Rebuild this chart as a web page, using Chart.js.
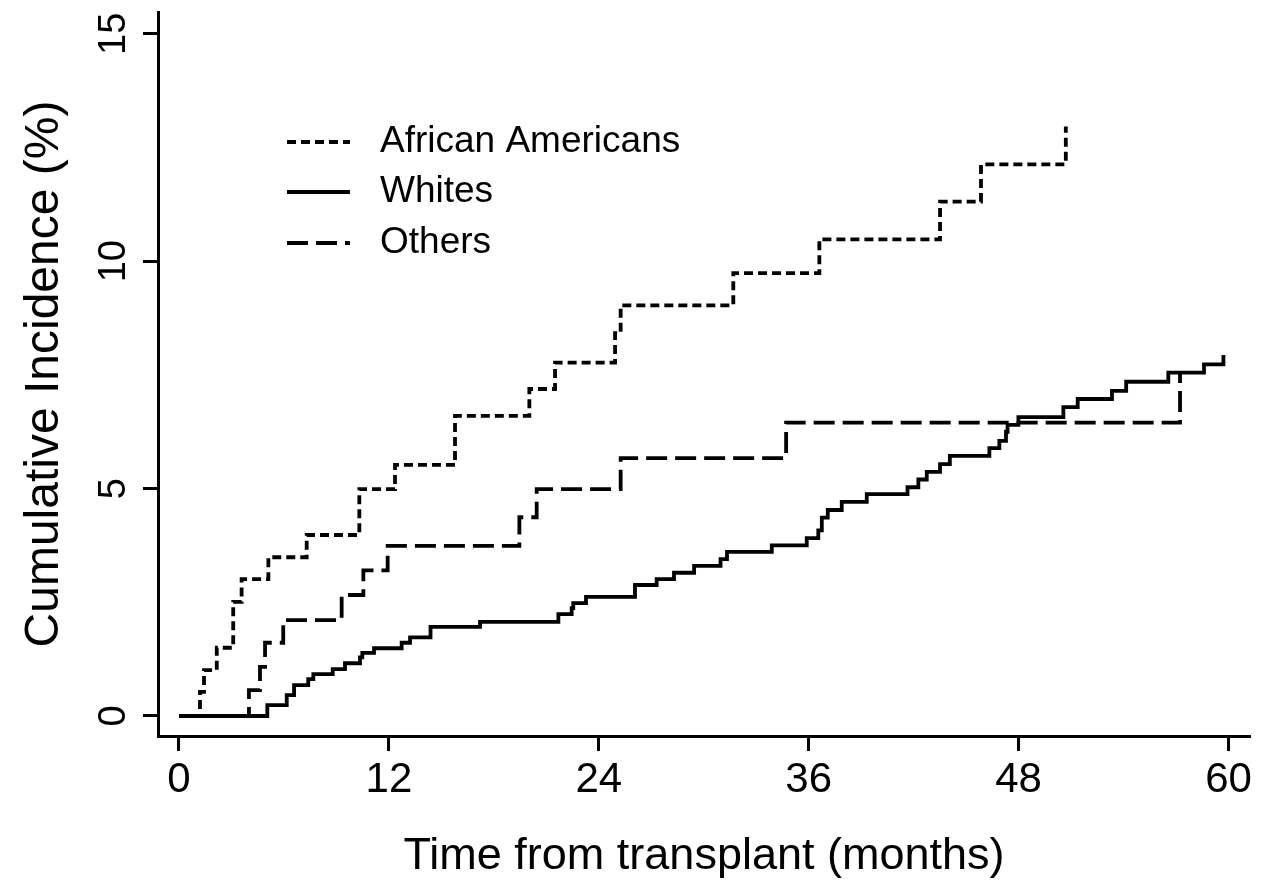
<!DOCTYPE html>
<html>
<head>
<meta charset="utf-8">
<script src="https://cdn.jsdelivr.net/npm/chart.js@4.4.0/dist/chart.umd.min.js"></script>
<style>
  html, body { margin: 0; padding: 0; background: #fff; }
  #wrap { width: 1273px; height: 884px; }
</style>
</head>
<body>
<div id="wrap"><canvas id="chart-incidence"></canvas></div>
<script>
// === Data ===
const xTicks = [0, 12, 24, 36, 48, 60];
const yTicks = [0, 5, 10, 15];

const aaMonths = [0, 1.20, 1.43, 2.16, 3.10, 3.58, 5.11, 7.30, 10.31, 12.35, 15.78, 20.03, 21.50, 24.93, 25.25, 31.69, 36.61, 43.51, 45.85, 50.70];
const aaIncidence = [0, 0.53, 1.01, 1.50, 2.51, 3.01, 3.49, 3.98, 4.99, 5.52, 6.60, 7.19, 7.77, 8.42, 9.03, 9.74, 10.48, 11.31, 12.13, 12.96];

const whMonths = [0, 5.05, 6.16, 6.58, 7.39, 7.68, 8.79, 9.49, 10.35, 10.48, 11.15, 12.73, 13.21, 14.38, 17.21, 21.69, 22.45, 22.54, 23.27, 26.07, 27.31, 28.30, 29.45, 30.96, 31.33, 33.89, 35.89, 36.55, 36.75, 37.09, 37.89, 39.32, 41.65, 42.27, 42.75, 43.51, 44.07, 46.33, 46.90, 47.28, 47.37, 47.99, 50.56, 51.38, 53.34, 54.15, 56.56, 58.60, 59.71];
const whIncidence = [0, 0.24, 0.46, 0.68, 0.81, 0.92, 1.03, 1.16, 1.29, 1.39, 1.49, 1.61, 1.73, 1.96, 2.07, 2.24, 2.37, 2.48, 2.62, 2.88, 3.01, 3.15, 3.30, 3.45, 3.61, 3.75, 3.91, 4.08, 4.36, 4.53, 4.71, 4.88, 5.03, 5.20, 5.37, 5.54, 5.72, 5.89, 6.05, 6.25, 6.40, 6.57, 6.79, 6.97, 7.15, 7.35, 7.55, 7.73, 7.94];

const otMonths = [0, 4.00, 4.63, 4.92, 5.96, 9.30, 10.54, 11.93, 19.46, 20.45, 25.25, 34.71, 57.23];
const otIncidence = [0, 0.57, 1.08, 1.61, 2.11, 2.66, 3.20, 3.74, 4.37, 4.99, 5.67, 6.45, 7.54];

const seriesLabels = ['African Americans', 'Whites', 'Others'];

function toPoints(xs, ys) {
    return xs.map((x, i) => ({ x: x, y: ys[i] }));
}

const FONT = '"Liberation Sans", Arial, sans-serif';

// rotated tick labels on the y axis
const yTickLabels = {
    id: 'yTickLabels',
    afterDraw(chart) {
        const { ctx } = chart;
        const y = chart.scales.y;
        ctx.save();
        ctx.font = '38px ' + FONT;
        ctx.fillStyle = '#000';
        ctx.textAlign = 'center';
        ctx.textBaseline = 'middle';
        y.ticks.forEach(t => {
            ctx.save();
            ctx.translate(y.right - 43, y.getPixelForValue(t.value));
            ctx.rotate(-Math.PI / 2);
            ctx.fillText(String(t.value), 0, 0);
            ctx.restore();
        });
        ctx.restore();
    }
};

// legend inside the plot, line sample then text
const insideLegend = {
    id: 'insideLegend',
    afterDraw(chart) {
        const { ctx, chartArea } = chart;
        const rows = [142, 192, 243];
        ctx.save();
        ctx.font = '37px ' + FONT;
        ctx.textBaseline = 'middle';
        ctx.fillStyle = '#000';
        chart.data.datasets.forEach((ds, i) => {
            const yy = rows[i];
            ctx.beginPath();
            ctx.setLineDash(ds.borderDash || []);
            ctx.lineWidth = ds.borderWidth;
            ctx.strokeStyle = ds.borderColor;
            ctx.moveTo(chartArea.left + 129, yy);
            ctx.lineTo(chartArea.left + 192, yy);
            ctx.stroke();
            ctx.setLineDash([]);
            ctx.fillText(ds.label, chartArea.left + 222, yy);
        });
        ctx.restore();
    }
};

const common = {
    borderColor: '#000',
    borderWidth: 3.8,
    pointRadius: 0,
    stepped: 'before',
    fill: false,
    borderCapStyle: 'butt',
    borderJoinStyle: 'miter'
};

new Chart(document.getElementById('chart-incidence'), {
    type: 'line',
    data: {
        datasets: [
            Object.assign({ label: seriesLabels[0], data: toPoints(aaMonths, aaIncidence), borderDash: [9, 5] }, common),
            Object.assign({ label: seriesLabels[1], data: toPoints(whMonths, whIncidence), borderDash: [] }, common),
            Object.assign({ label: seriesLabels[2], data: toPoints(otMonths, otIncidence), borderDash: [21, 8] }, common)
        ]
    },
    options: {
        responsive: true,
        maintainAspectRatio: false,
        animation: false,
        layout: { padding: { top: 12, right: 23, left: 0, bottom: 0 } },
        plugins: {
            legend: { display: false },
            tooltip: { enabled: false }
        },
        scales: {
            x: {
                type: 'linear',
                min: -1.2,
                max: 61.23,
                afterBuildTicks: s => { s.ticks = xTicks.map(v => ({ value: v })); },
                afterFit: s => { s.height = 148; },
                border: { display: true, color: '#000', width: 3 },
                grid: { drawOnChartArea: false, drawTicks: true, tickLength: 15, tickWidth: 3, tickColor: '#000' },
                ticks: {
                    autoSkip: false, maxRotation: 0, minRotation: 0,
                    color: '#000', padding: 4,
                    font: { family: FONT, size: 42 }
                },
                title: {
                    display: true,
                    text: 'Time from transplant (months)',
                    color: '#000',
                    font: { family: FONT, size: 45 },
                    padding: { top: 0, bottom: 0 }
                }
            },
            y: {
                type: 'linear',
                min: -0.44,
                max: 15.48,
                afterBuildTicks: s => { s.ticks = yTicks.map(v => ({ value: v })); },
                afterFit: s => { s.width = 158; },
                border: { display: true, color: '#000', width: 3 },
                grid: { drawOnChartArea: false, drawTicks: true, tickLength: 15, tickWidth: 3, tickColor: '#000' },
                ticks: { display: false },
                title: {
                    display: true,
                    text: 'Cumulative Incidence (%)',
                    color: '#000',
                    font: { family: FONT, size: 48 },
                    padding: { top: 16, bottom: 0 }
                }
            }
        }
    },
    plugins: [yTickLabels, insideLegend]
});
</script>
</body>
</html>
